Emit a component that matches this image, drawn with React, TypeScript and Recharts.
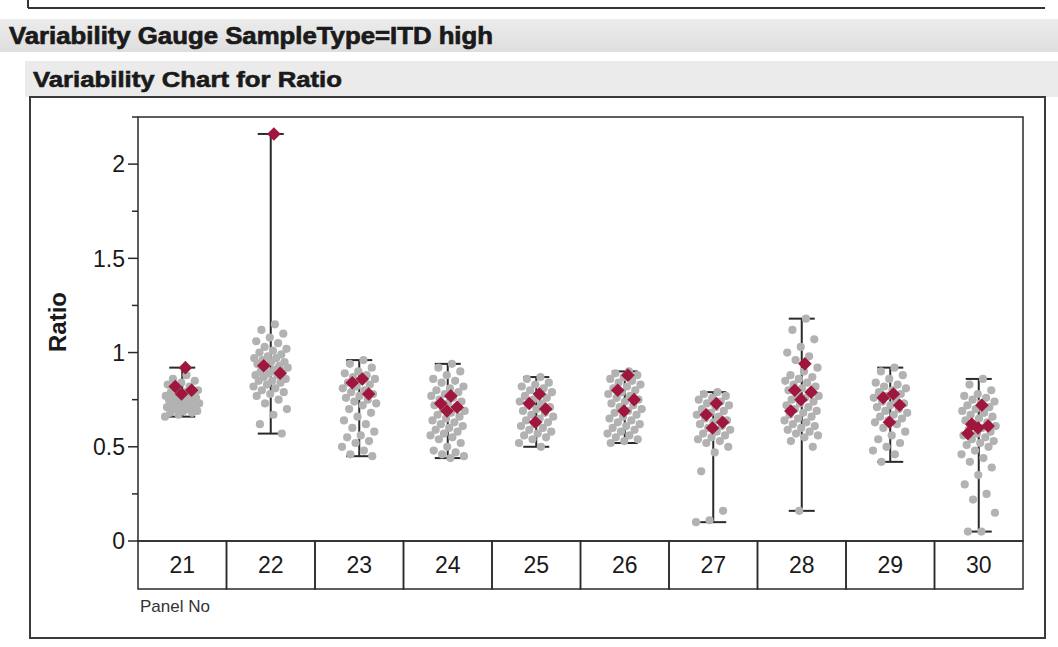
import { ScatterChart, Scatter, XAxis, YAxis, ErrorBar, ReferenceArea } from "recharts";

// panel numbers along the bottom
const panelNo = [21, 22, 23, 24, 25, 26, 27, 28, 29, 30];

// min / max of Ratio per panel (range bars)
const rangeLow = [0.66, 0.57, 0.45, 0.44, 0.5, 0.52, 0.1, 0.16, 0.42, 0.05];
const rangeHigh = [0.92, 2.16, 0.96, 0.94, 0.87, 0.9, 0.79, 1.18, 0.92, 0.86];

const ratio21 = [0.88, 0.86, 0.85, 0.84, 0.83, 0.82, 0.81, 0.8, 0.79, 0.79, 0.78, 0.78, 0.77, 0.77, 0.76, 0.76, 0.75, 0.75, 0.74, 0.74, 0.73, 0.73, 0.72, 0.72, 0.71, 0.71, 0.7, 0.7, 0.69, 0.69, 0.68, 0.68, 0.67, 0.66];
const ratio22 = [1.15, 1.12, 1.1, 1.08, 1.06, 1.05, 1.03, 1.02, 1.01, 1.0, 0.99, 0.98, 0.97, 0.97, 0.96, 0.95, 0.95, 0.94, 0.93, 0.93, 0.92, 0.91, 0.9, 0.9, 0.89, 0.88, 0.88, 0.87, 0.86, 0.85, 0.85, 0.84, 0.83, 0.82, 0.81, 0.8, 0.79, 0.78, 0.77, 0.75, 0.73, 0.7, 0.67, 0.62, 0.57];
const ratio23 = [0.96, 0.94, 0.92, 0.9, 0.89, 0.88, 0.87, 0.86, 0.85, 0.84, 0.83, 0.82, 0.81, 0.8, 0.79, 0.78, 0.77, 0.76, 0.75, 0.74, 0.73, 0.72, 0.7, 0.68, 0.66, 0.64, 0.62, 0.6, 0.58, 0.56, 0.55, 0.53, 0.52, 0.5, 0.48, 0.46, 0.45];
const ratio24 = [0.94, 0.92, 0.9, 0.88, 0.86, 0.85, 0.84, 0.82, 0.81, 0.8, 0.79, 0.78, 0.77, 0.76, 0.75, 0.74, 0.73, 0.72, 0.71, 0.7, 0.69, 0.68, 0.67, 0.66, 0.65, 0.64, 0.63, 0.62, 0.61, 0.6, 0.59, 0.58, 0.57, 0.56, 0.55, 0.54, 0.52, 0.5, 0.48, 0.47, 0.46, 0.45, 0.44];
const ratio25 = [0.87, 0.86, 0.84, 0.83, 0.82, 0.81, 0.8, 0.79, 0.78, 0.77, 0.76, 0.75, 0.74, 0.73, 0.72, 0.71, 0.7, 0.69, 0.68, 0.67, 0.66, 0.65, 0.64, 0.63, 0.62, 0.61, 0.6, 0.59, 0.58, 0.57, 0.56, 0.55, 0.54, 0.52, 0.5];
const ratio26 = [0.9, 0.89, 0.88, 0.87, 0.86, 0.85, 0.84, 0.83, 0.82, 0.81, 0.8, 0.79, 0.78, 0.77, 0.76, 0.75, 0.74, 0.73, 0.72, 0.71, 0.7, 0.69, 0.68, 0.67, 0.66, 0.65, 0.64, 0.63, 0.62, 0.61, 0.6, 0.59, 0.58, 0.57, 0.56, 0.55, 0.54, 0.53, 0.52];
const ratio27 = [0.79, 0.78, 0.77, 0.76, 0.75, 0.74, 0.73, 0.72, 0.71, 0.7, 0.69, 0.68, 0.67, 0.66, 0.65, 0.64, 0.63, 0.62, 0.61, 0.6, 0.59, 0.58, 0.57, 0.56, 0.55, 0.54, 0.53, 0.52, 0.5, 0.47, 0.37, 0.16, 0.11, 0.1];
const ratio28 = [1.18, 1.12, 1.07, 1.03, 1.0, 0.98, 0.96, 0.92, 0.9, 0.88, 0.87, 0.86, 0.85, 0.84, 0.83, 0.82, 0.81, 0.8, 0.79, 0.78, 0.77, 0.76, 0.75, 0.74, 0.73, 0.72, 0.71, 0.7, 0.69, 0.68, 0.67, 0.66, 0.65, 0.64, 0.63, 0.62, 0.61, 0.6, 0.59, 0.58, 0.57, 0.56, 0.55, 0.53, 0.5, 0.16];
const ratio29 = [0.92, 0.9, 0.88, 0.86, 0.84, 0.83, 0.82, 0.81, 0.8, 0.79, 0.78, 0.77, 0.76, 0.75, 0.74, 0.73, 0.72, 0.71, 0.7, 0.69, 0.68, 0.67, 0.66, 0.65, 0.64, 0.63, 0.62, 0.6, 0.58, 0.56, 0.54, 0.52, 0.5, 0.48, 0.46, 0.42];
const ratio30 = [0.86, 0.83, 0.8, 0.78, 0.77, 0.76, 0.75, 0.74, 0.73, 0.72, 0.71, 0.7, 0.69, 0.68, 0.67, 0.66, 0.65, 0.64, 0.63, 0.62, 0.61, 0.6, 0.59, 0.58, 0.57, 0.56, 0.55, 0.54, 0.53, 0.52, 0.51, 0.5, 0.48, 0.46, 0.44, 0.42, 0.39, 0.35, 0.3, 0.25, 0.22, 0.15, 0.05, 0.05];
const grayRatio = [ratio21, ratio22, ratio23, ratio24, ratio25, ratio26, ratio27, ratio28, ratio29, ratio30];

// red diamonds
const redRatio = [
  [0.92, 0.82, 0.8, 0.78],
  [2.16, 0.93, 0.89],
  [0.86, 0.84, 0.78],
  [0.77, 0.73, 0.71, 0.69],
  [0.78, 0.73, 0.7, 0.63],
  [0.88, 0.8, 0.75, 0.69],
  [0.73, 0.67, 0.63, 0.6],
  [0.94, 0.8, 0.79, 0.75, 0.69],
  [0.78, 0.76, 0.72, 0.63],
  [0.72, 0.62, 0.61, 0.6, 0.57],
];

const yTicks = [0, 0.25, 0.5, 0.75, 1, 1.25, 1.5, 1.75, 2, 2.25];

const FONT = "'Liberation Sans', Arial, sans-serif";
const CELL_W = 88.5;

// spread points sideways inside a panel (jitter, not data)
const jitter = (i: number, spread: number) => ((((i + 1) * 0.618034) % 1) - 0.5) * spread;

const rangeRows = panelNo.map((p, i) => {
  const mid = (rangeLow[i] + rangeHigh[i]) / 2;
  return { x: p, y: mid, err: [mid - rangeLow[i], rangeHigh[i] - mid] };
});
const grayRows = panelNo.flatMap((p, i) => grayRatio[i].map((v, k) => ({ x: p + jitter(k, 0.4), y: v })));
const redRows = panelNo.flatMap((p, i) => redRatio[i].map((v, k) => ({ x: p + jitter(k, 0.3), y: v })));

const YTick = ({ x, y, payload }: any) => {
  const major = Math.abs(payload.value * 2 - Math.round(payload.value * 2)) < 1e-6;
  return (
    <g>
      <line x1={x - (major ? 10 : 6)} x2={x} y1={y} y2={y} stroke="#2a2a2a" strokeWidth={1.5} />
      {major && (
        <text x={x - 13} y={y} dy="0.36em" textAnchor="end" fontSize={23} fontFamily={FONT} fill="#1a1a1a">
          {payload.value}
        </text>
      )}
    </g>
  );
};

const XTick = ({ x, y, payload }: any) => (
  <g>
    <rect x={x - CELL_W / 2} y={y} width={CELL_W} height={48} fill="none" stroke="#2a2a2a" strokeWidth={1.5} />
    <text x={x} y={y + 24} dy="0.36em" textAnchor="middle" fontSize={23} fontFamily={FONT} fill="#1a1a1a">
      {payload.value}
    </text>
  </g>
);

const Dot = (props: any) => <circle cx={props.cx} cy={props.cy} r={4.1} fill="#b2b2b2" />;
const Diamond = (props: any) => {
  const { cx, cy } = props;
  const h = 6.8;
  return <polygon points={`${cx},${cy - h} ${cx + h},${cy} ${cx},${cy + h} ${cx - h},${cy}`} fill="#a0173d" />;
};

export default function App() {
  return (
    <div style={{ position: "absolute", left: 0, top: 0, width: 1058, height: 647, background: "#fff", fontFamily: FONT }}>
      <svg width={1058} height={647} style={{ position: "absolute", left: 0, top: 0 }}>
        <defs>
          <linearGradient id="hdr" x1="0" y1="0" x2="0" y2="1">
            <stop offset="0" stopColor="#ececec" />
            <stop offset="1" stopColor="#dedede" />
          </linearGradient>
        </defs>
        <line x1={28} y1={0} x2={28} y2={8} stroke="#333" strokeWidth={2} />
        <line x1={28} y1={8} x2={1045} y2={8} stroke="#333" strokeWidth={2} />
        <rect x={0} y={19} width={1058} height={33} fill="url(#hdr)" />
        <text x={9} y={44} fontSize={24} fontWeight="bold" fontFamily={FONT} fill="#1a1a1a" stroke="#1a1a1a" strokeWidth={0.7} textLength={484} lengthAdjust="spacingAndGlyphs">
          Variability Gauge SampleType=ITD high
        </text>
        <rect x={25} y={61} width={1033} height={36} fill="#ebebeb" />
        <text x={33} y={87} fontSize={22} fontWeight="bold" fontFamily={FONT} fill="#1a1a1a" stroke="#1a1a1a" strokeWidth={0.6} textLength={309} lengthAdjust="spacingAndGlyphs">
          Variability Chart for Ratio
        </text>
        <rect x={30} y={97} width={1015} height={541} fill="#fff" stroke="#3a3a3a" strokeWidth={2} />
        <text transform="translate(66,322) rotate(-90)" textAnchor="middle" fontSize={24} fontWeight="bold" fontFamily={FONT} fill="#1a1a1a">
          Ratio
        </text>
        <text x={140} y={612} fontSize={17} fontFamily={FONT} fill="#333">
          Panel No
        </text>
      </svg>
      <div style={{ position: "absolute", left: 0, top: 0 }}>
        <ScatterChart width={1058} height={647} margin={{ top: 117, right: 35, bottom: 58, left: 0 }}>
          <XAxis
            type="number"
            dataKey="x"
            domain={[20.5, 30.5]}
            ticks={panelNo}
            interval={0}
            height={48}
            tickSize={0}
            tickMargin={0}
            axisLine={false}
            tick={<XTick />}
          />
          <YAxis
            type="number"
            dataKey="y"
            domain={[0, 2.25]}
            ticks={yTicks}
            interval={0}
            width={138}
            tickSize={0}
            tickMargin={0}
            axisLine={false}
            tick={<YTick />}
            allowDataOverflow
          />
          <ReferenceArea x1={20.5} x2={30.5} y1={0} y2={2.25} fill="none" stroke="#2a2a2a" strokeWidth={1.5} />
          <Scatter data={rangeRows} shape={() => <g />} isAnimationActive={false}>
            <ErrorBar dataKey="err" direction="y" width={13} stroke="#2a2a2a" strokeWidth={2} isAnimationActive={false} />
          </Scatter>
          <Scatter data={grayRows} shape={<Dot />} isAnimationActive={false} />
          <Scatter data={redRows} shape={<Diamond />} isAnimationActive={false} />
        </ScatterChart>
      </div>
    </div>
  );
}
